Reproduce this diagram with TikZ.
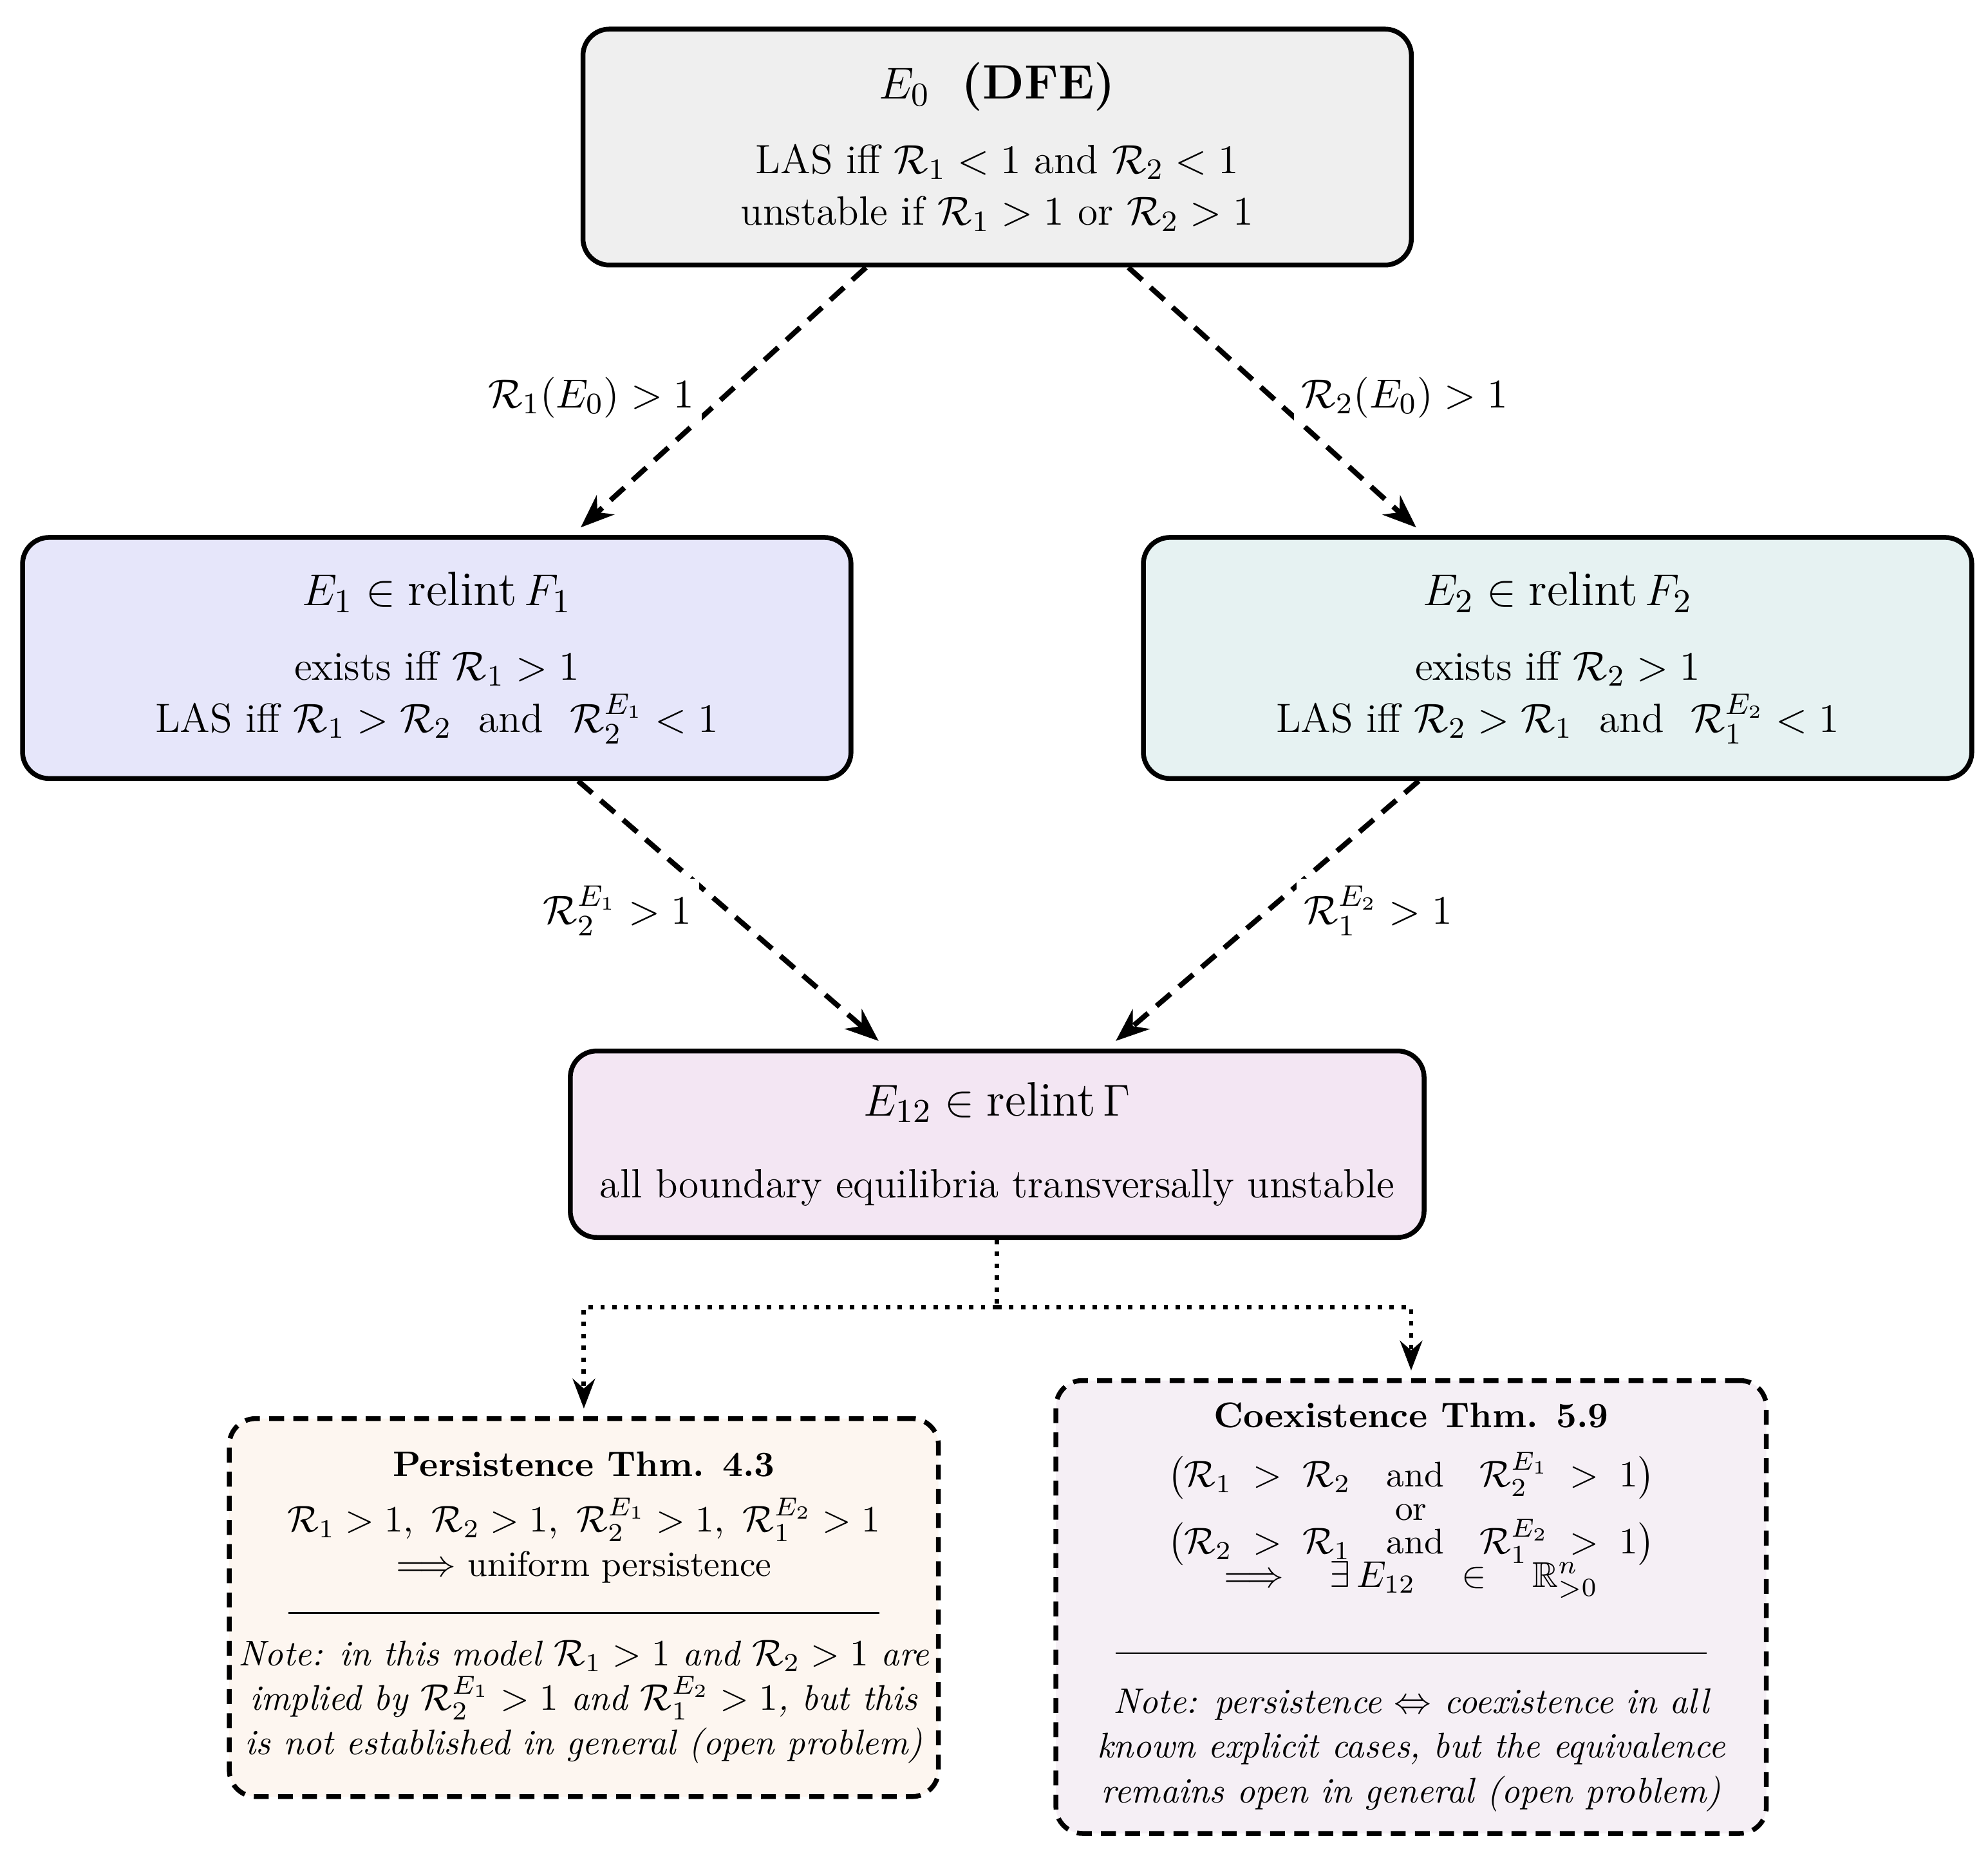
\documentclass[tikz,border=0pt]{standalone}
\usepackage{amsmath,amssymb}
\usetikzlibrary{calc,arrows.meta}
\begin{document}
\begin{tikzpicture}[x=0.012cm,y=-0.012cm,
  box/.style={draw,line width=1.3pt,rounded corners=0.25cm,align=center,inner sep=0pt},
  flow/.style={line width=1.4pt,dash pattern=on 5pt off 3pt,-{Stealth[length=9pt,width=7pt]}},
  dot/.style={line width=1.2pt,dotted},
  lab/.style={fill=white,inner sep=2pt,font=\fontsize{11}{13}\selectfont},
  small/.style={font=\fontsize{9.6}{12}\selectfont},
  every node/.style={font=\fontsize{11}{14}\selectfont}]
\useasboundingbox (0,0) rectangle (1568,1462);
\definecolor{cg}{HTML}{EFEFEF}\definecolor{c1}{HTML}{E6E6FA}\definecolor{c2}{HTML}{E6F2F2}
\definecolor{c12}{HTML}{F3E6F3}\definecolor{cp}{HTML}{FDF6F0}\definecolor{cc}{HTML}{F5EFF5}
\node[box,fill=cg,minimum width=7.836cm,minimum height=2.232cm] (e0) at (786.5,116)
 {{\fontsize{13}{16}\selectfont $E_0$\ \ \textbf{(DFE)}}\\[6pt]
  LAS iff $\mathcal{R}_1<1$ and $\mathcal{R}_2<1$\\ unstable if $\mathcal{R}_1>1$ or $\mathcal{R}_2>1$};
\node[box,fill=c1,minimum width=7.836cm,minimum height=2.28cm] (e1) at (344.5,519)
 {{\fontsize{13}{16}\selectfont $E_1\in\textrm{relint}\,F_1$}\\[6pt]
  exists iff $\mathcal{R}_1>1$\\ LAS iff $\mathcal{R}_1>\mathcal{R}_2$\ \ and\ \ $\mathcal{R}_2^{E_1}<1$};
\node[box,fill=c2,minimum width=7.836cm,minimum height=2.28cm] (e2) at (1228.5,519)
 {{\fontsize{13}{16}\selectfont $E_2\in\textrm{relint}\,F_2$}\\[6pt]
  exists iff $\mathcal{R}_2>1$\\ LAS iff $\mathcal{R}_2>\mathcal{R}_1$\ \ and\ \ $\mathcal{R}_1^{E_2}<1$};
\node[box,fill=c12,minimum width=8.076cm,minimum height=1.764cm] (e12) at (786.5,902.5)
 {{\fontsize{13}{16}\selectfont $E_{12}\in\textrm{relint}\,\Gamma$}\\[8pt]
  all boundary equilibria transversally unstable};
\node[box,small,fill=cp,dash pattern=on 4pt off 2.5pt,minimum width=6.708cm,minimum height=3.576cm] (p) at (460.5,1268)
 {\textbf{Persistence Thm. 4.3}\\[3pt]
  $\mathcal{R}_1>1,\ \mathcal{R}_2>1,\ \mathcal{R}_2^{E_1}>1,\ \mathcal{R}_1^{E_2}>1$\\
  $\Longrightarrow$ uniform persistence\\[-2pt]
  \rule{5.59cm}{0.4pt}\\[2pt]
  \itshape Note: in this model $\mathcal{R}_1>1$ and $\mathcal{R}_2>1$ are\\
  \itshape implied by $\mathcal{R}_2^{E_1}>1$ and $\mathcal{R}_1^{E_2}>1$, but this\\
  \itshape is not established in general (open problem)};
\node[box,small,fill=cc,dash pattern=on 4pt off 2.5pt,minimum width=6.72cm,minimum height=4.284cm] (c) at (1113,1267.5)
 {\textbf{Coexistence Thm. 5.9}\\[4pt]
  $\big(\mathcal{R}_1\;>\;\mathcal{R}_2\quad\text{and}\quad\mathcal{R}_2^{E_1}\;>\;1\big)$\\[-3pt]
  or\\[-3pt]
  $\big(\mathcal{R}_2\;>\;\mathcal{R}_1\quad\text{and}\quad\mathcal{R}_1^{E_2}\;>\;1\big)$\\[-3pt]
  $\Longrightarrow\quad\exists\,E_{12}\quad\in\quad\mathbb{R}^n_{>0}$\\[6pt]
  \rule{5.59cm}{0.4pt}\\[4pt]
  \itshape Note: persistence $\Leftrightarrow$ coexistence in all\\
  \itshape known explicit cases, but the equivalence\\
  \itshape remains open in general (open problem)};
\draw[flow] ($(e0.south)+(-103.5,0)$) -- node[lab,pos=0.5,xshift=-1.25cm]{$\mathcal{R}_1(E_0)>1$} ($(e1.north)+(113.5,-6)$);
\draw[flow] ($(e0.south)+(103.5,0)$) -- node[lab,pos=0.5,xshift=1.25cm]{$\mathcal{R}_2(E_0)>1$} ($(e2.north)+(-111.5,-6)$);
\draw[flow] ($(e1.south)+(111.5,0)$) -- node[lab,pos=0.5,xshift=-1.05cm]{$\mathcal{R}_2^{E_1}>1$} ($(e12.north)+(-93.5,-6)$);
\draw[flow] ($(e2.south)+(-109.5,0)$) -- node[lab,pos=0.5,xshift=1.05cm]{$\mathcal{R}_1^{E_2}>1$} ($(e12.north)+(93.5,-6)$);
\coordinate (j) at ($(e12.south)+(0,53)$);
\draw[dot] (e12.south) -- (j);
\draw[dot,-{Stealth[length=8pt,width=6pt]}] (j) -| ($(p.north)+(0,-6)$);
\draw[dot,-{Stealth[length=8pt,width=6pt]}] (j) -| ($(c.north)+(0,-6)$);
\end{tikzpicture}
\end{document}
